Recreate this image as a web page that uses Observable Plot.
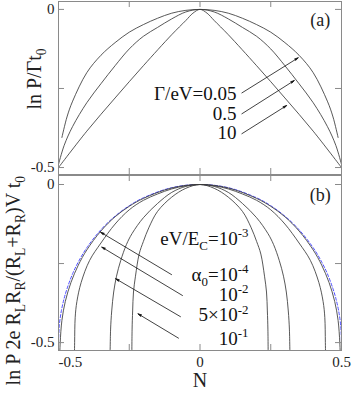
<!DOCTYPE html>
<html><head><meta charset="utf-8">
<script src="https://cdn.jsdelivr.net/npm/d3@7"></script>
<script src="https://cdn.jsdelivr.net/npm/@observablehq/plot@0.6"></script>
<style>
body{margin:0;background:#fff;}
#wrap{position:relative;width:352px;height:395px;overflow:hidden;}
#wrap svg{position:absolute;left:0;top:0;}
</style></head><body><div id="wrap"></div>
<script>
// ---------- Panel (a): ln P / Gamma t0 vs N ----------
const gammaLabels = ["Γ/eV=0.05", "0.5", "10"];
const nG005 = [-0.488,-0.47,-0.45,-0.4,-0.35,-0.3,-0.25,-0.2,-0.15,-0.1,-0.05,0,0.05,0.1,0.15,0.2,0.25,0.3,0.35,0.4,0.45,0.47,0.488];
const vG005 = [-0.405,-0.34,-0.29,-0.2,-0.145,-0.105,-0.072,-0.048,-0.028,-0.012,-0.003,0,-0.003,-0.012,-0.028,-0.048,-0.072,-0.105,-0.145,-0.2,-0.29,-0.34,-0.405];
const nG05 = [-0.5,-0.48,-0.45,-0.4,-0.35,-0.3,-0.25,-0.2,-0.15,-0.1,-0.05,0,0.05,0.1,0.15,0.2,0.25,0.3,0.35,0.4,0.45,0.48,0.5];
const vG05 = [-0.49,-0.43,-0.37,-0.295,-0.235,-0.178,-0.125,-0.085,-0.057,-0.03,-0.008,0,-0.008,-0.03,-0.057,-0.085,-0.125,-0.178,-0.235,-0.295,-0.37,-0.43,-0.49];
const nG10 = [-0.5,-0.4,-0.3,-0.2,-0.1,-0.05,-0.025,0,0.025,0.05,0.1,0.2,0.3,0.4,0.5];
const vG10 = [-0.5,-0.385,-0.28,-0.178,-0.08,-0.035,-0.012,0,-0.012,-0.035,-0.08,-0.178,-0.28,-0.385,-0.5];

// ---------- Panel (b) ----------
const alphaLabels = ["eV/E_{C}=10^{-3}", "α_{0}=10^{-4}", "10^{-2}", "5×10^{-2}", "10^{-1}"];
const nCl = [-0.5,-0.497,-0.49,-0.48,-0.47,-0.45,-0.43,-0.4,-0.35,-0.3,-0.25,-0.2,-0.1,0,0.1,0.2,0.25,0.3,0.35,0.4,0.43,0.45,0.47,0.48,0.49,0.497,0.5];
const vCl = [-0.5,-0.445,-0.4,-0.36,-0.33,-0.282,-0.245,-0.2,-0.143,-0.1,-0.067,-0.042,-0.01,0,-0.01,-0.042,-0.067,-0.1,-0.143,-0.2,-0.245,-0.282,-0.33,-0.36,-0.4,-0.445,-0.5];
const nA4 = [-0.496,-0.494,-0.488,-0.476,-0.456,-0.43,-0.4,-0.35,-0.3,-0.25,-0.2,-0.1,0,0.1,0.2,0.25,0.3,0.35,0.4,0.43,0.456,0.476,0.488,0.494,0.496];
const vA4 = [-0.55,-0.5,-0.43,-0.37,-0.31,-0.255,-0.207,-0.147,-0.102,-0.069,-0.044,-0.011,0,-0.011,-0.044,-0.069,-0.102,-0.147,-0.207,-0.255,-0.31,-0.37,-0.43,-0.5,-0.55];
const nA2 = [-0.444,-0.443,-0.441,-0.435,-0.42,-0.39,-0.35,-0.3,-0.25,-0.2,-0.15,-0.1,-0.05,0,0.05,0.1,0.15,0.2,0.25,0.3,0.35,0.39,0.42,0.435,0.441,0.443,0.444];
const vA2 = [-0.56,-0.5,-0.42,-0.37,-0.31,-0.24,-0.185,-0.125,-0.08,-0.05,-0.03,-0.014,-0.004,0,-0.004,-0.014,-0.03,-0.05,-0.08,-0.125,-0.185,-0.24,-0.31,-0.37,-0.42,-0.5,-0.56];
const nA52 = [-0.318,-0.316,-0.312,-0.305,-0.295,-0.28,-0.26,-0.24,-0.2,-0.15,-0.1,-0.05,0,0.05,0.1,0.15,0.2,0.24,0.26,0.28,0.295,0.305,0.312,0.316,0.318];
const vA52 = [-0.56,-0.46,-0.4,-0.34,-0.29,-0.24,-0.19,-0.155,-0.105,-0.06,-0.025,-0.006,0,-0.006,-0.025,-0.06,-0.105,-0.155,-0.19,-0.24,-0.29,-0.34,-0.4,-0.46,-0.56];
const nA1 = [-0.241,-0.24,-0.238,-0.235,-0.228,-0.215,-0.2,-0.18,-0.15,-0.1,-0.05,0,0.05,0.1,0.15,0.18,0.2,0.215,0.228,0.235,0.238,0.24,0.241];
const vA1 = [-0.56,-0.46,-0.4,-0.34,-0.29,-0.22,-0.18,-0.135,-0.085,-0.04,-0.012,0,-0.012,-0.04,-0.085,-0.135,-0.18,-0.22,-0.29,-0.34,-0.4,-0.46,-0.56];

// ticks
const xTicks = [-0.25, 0, 0.25];
const yTicks = [0, -0.25, -0.5];
const yTickLabelVals = [0, -0.5];
const yTickLabels = ["0", "-0.5"];
const xTickLabelVals = [-0.5, 0, 0.5];
const xTickLabels = ["-0.5", "0", "0.5"];

// annotation arrows (tail -> head), in data units
const arrAx1 = [0.148, 0.148, 0.148], arrAy1 = [-0.264, -0.330, -0.393];
const arrAx2 = [0.347, 0.333, 0.306], arrAy2 = [-0.153, -0.225, -0.304];
const arrBx1 = [-0.1005, -0.062, -0.069, -0.076], arrBy1 = [-0.285, -0.351, -0.418, -0.486];
const arrBx2 = [-0.351, -0.347, -0.298, -0.219], arrBy2 = [-0.151, -0.198, -0.298, -0.409];
const labAy = [-0.266, -0.329, -0.392];
const labBy = [-0.171, -0.285, -0.348, -0.414, -0.487];

const FONT = "'Liberation Serif','Times New Roman',serif";
const rows = (name, ns, vs) => ns.map((n, i) => ({s: name, N: n, v: vs[i]}));
const panelA = [...rows("0.05", nG005, vG005), ...rows("0.5", nG05, vG05), ...rows("10", nG10, vG10)];
const panelB = [...rows("1e-4", nA4, vA4), ...rows("1e-2", nA2, vA2), ...rows("5e-2", nA52, vA52), ...rows("1e-1", nA1, vA1)];
const panelBcl = rows("cl", nCl, vCl);

const W = 352, ML = 58, MR = 11, IW = W - ML - MR;
const FR = "#8a8a8a";
const CURVE = "#3a3a3a";
function frameMarks(IH) {
  return [
    Plot.frame({stroke: FR}),
    Plot.tickX(xTicks, {x: d => d, insetBottom: IH - 6, stroke: FR}),
    Plot.tickX(xTicks, {x: d => d, insetTop: IH - 6, stroke: FR}),
    Plot.tickY(yTicks, {y: d => d, insetRight: IW - 6, stroke: FR}),
    Plot.tickY(yTicks, {y: d => d, insetLeft: IW - 6, stroke: FR}),
    Plot.text(yTickLabelVals, {y: d => d, text: (d, i) => yTickLabels[i], frameAnchor: "left", textAnchor: "end", dx: -4, fontSize: 15, fill: "#222"})
  ];
}
const arrowStyle = {stroke: "#111", fill: "#111", strokeWidth: 0.8, headLength: 7, headAngle: 30};

// Panel b (full height svg, drawn first)
const HB = 395, MTB = 175, MBB = 45, IHB = HB - MTB - MBB;
const pb = Plot.plot({
  width: W, height: HB, marginLeft: ML, marginRight: MR, marginTop: MTB, marginBottom: MBB,
  x: {domain: [-0.5, 0.5], axis: null},
  y: {domain: [-0.525, 0.0285], axis: null},
  style: {fontFamily: FONT, background: "none", overflow: "visible"},
  marks: [
    Plot.line(panelBcl, {x: "N", y: "v", stroke: "#3b3bff", strokeWidth: 0.9, strokeDasharray: "3,2", curve: "catmull-rom", clip: true}),
    Plot.line(panelB, {x: "N", y: "v", z: "s", stroke: CURVE, strokeWidth: 0.85, curve: "catmull-rom", clip: true}),
    ...frameMarks(IHB),
    Plot.text(xTickLabelVals, {filter: d => d === -0.5, x: d => d, text: (d, i) => xTickLabels[i], frameAnchor: "bottom", lineAnchor: "middle", textAnchor: "start", dy: 12, fontSize: 15, fill: "#222"}),
    Plot.text(xTickLabelVals, {filter: d => d !== -0.5, x: d => d, text: d => xTickLabels[xTickLabelVals.indexOf(d)], frameAnchor: "bottom", lineAnchor: "middle", dy: 12, fontSize: 15, fill: "#222"}),
    Plot.text(["N"], {frameAnchor: "bottom", lineAnchor: "middle", dy: 30, fontSize: 20, fill: "#222"}),
    Plot.text(["ln P 2e R_{L}R_{R}/(R_{L}+R_{R})V t_{0}"], {frameAnchor: "left", y: () => -0.304, rotate: -90, textAnchor: "middle", lineAnchor: "bottom", dx: -39, fontSize: 20, fill: "#222"}),
    Plot.text(["(b)"], {x: () => 0.425, y: () => -0.035, fontSize: 18, fill: "#222"}),
    Plot.arrow(d3.range(4), {x1: i => arrBx1[i], y1: i => arrBy1[i], x2: i => arrBx2[i], y2: i => arrBy2[i], ...arrowStyle}),
    Plot.text(alphaLabels, {x: () => 0.171, y: (d, i) => labBy[i], textAnchor: "end", lineAnchor: "middle", fontSize: 19, fill: "#111"})
  ]
});

// Panel a (top svg)
const HA = 176, MTA = 1, MBA = 2, IHA = HA - MTA - MBA;
const pa = Plot.plot({
  width: W, height: HA, marginLeft: ML, marginRight: MR, marginTop: MTA, marginBottom: MBA,
  x: {domain: [-0.5, 0.5], axis: null},
  y: {domain: [-0.522, 0.025], axis: null},
  style: {fontFamily: FONT, background: "none", overflow: "visible"},
  marks: [
    Plot.line(panelA, {x: "N", y: "v", z: "s", stroke: CURVE, strokeWidth: 0.85, curve: "catmull-rom", clip: true}),
    ...frameMarks(IHA),
    Plot.text(["ln P/Γt_{0}"], {frameAnchor: "left", y: () => -0.22, rotate: -90, textAnchor: "middle", lineAnchor: "bottom", dx: -18, fontSize: 20, fill: "#222"}),
    Plot.text(["(a)"], {x: () => 0.425, y: () => -0.035, fontSize: 18, fill: "#222"}),
    Plot.arrow(d3.range(3), {x1: i => arrAx1[i], y1: i => arrAy1[i], x2: i => arrAx2[i], y2: i => arrAy2[i], ...arrowStyle}),
    Plot.text(gammaLabels, {x: () => 0.129, y: (d, i) => labAy[i], textAnchor: "end", lineAnchor: "middle", fontSize: 19, fill: "#111"})
  ]
});

const wrap = document.getElementById("wrap");
wrap.appendChild(pb);
wrap.appendChild(pa);

// sub/superscript markup -> tspans (kept as real text)
function richify(svg) {
  svg.querySelectorAll("text").forEach(t => {
    const s = t.textContent;
    if (!/[_^]\{/.test(s)) return;
    const fs = parseFloat(getComputedStyle(t).fontSize);
    const parts = s.split(/([_^]\{[^}]*\})/).filter(p => p.length);
    t.textContent = "";
    let shift = 0;
    for (const p of parts) {
      const ts = document.createElementNS("http://www.w3.org/2000/svg", "tspan");
      let target = 0, txt = p, small = false;
      if (p[0] === "_") { target = 0.28 * fs; txt = p.slice(2, -1); small = true; }
      else if (p[0] === "^") { target = -0.42 * fs; txt = p.slice(2, -1); small = true; }
      const d = target - shift;
      if (d) ts.setAttribute("dy", d.toFixed(2));
      shift = target;
      if (small) ts.setAttribute("font-size", (0.68 * fs).toFixed(1));
      ts.textContent = txt;
      t.appendChild(ts);
    }
  });
}
richify(pb);
richify(pa);
</script>
</body></html>
